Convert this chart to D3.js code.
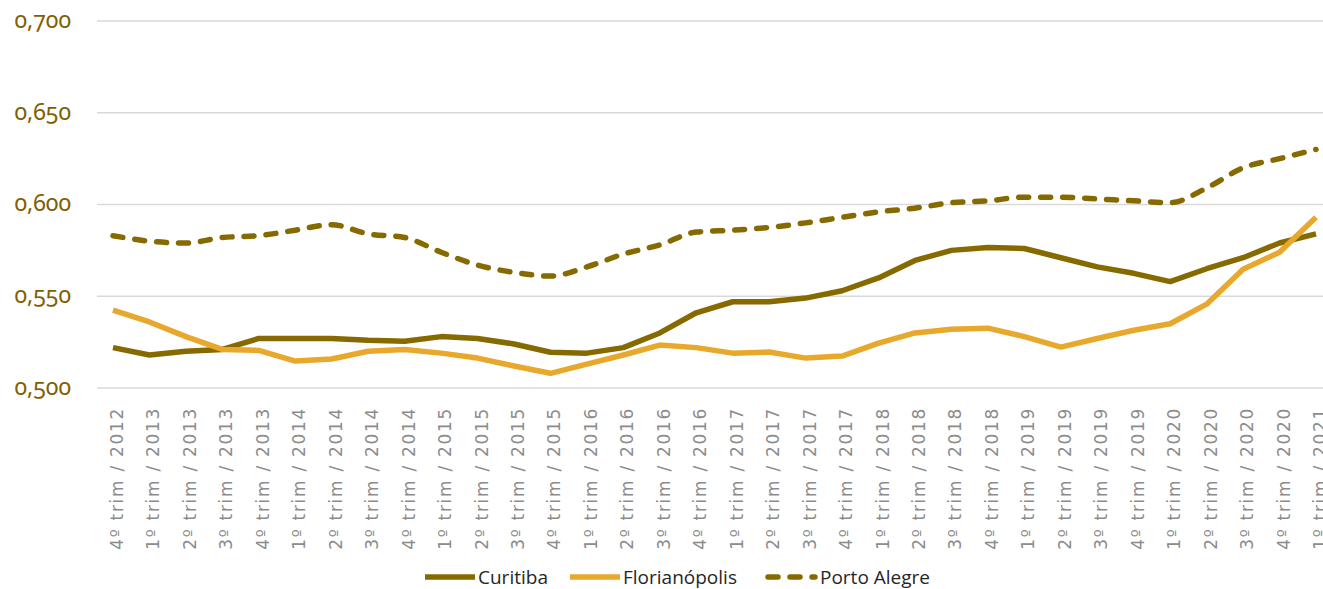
<!DOCTYPE html>
<meta charset="utf-8">
<style>
body { margin: 0; background: #fff; }
.grid line { stroke: #d9d9d9; stroke-width: 1.5; }
.ylab { font-family: "Noto Sans", sans-serif; font-size: 23px; fill: #7f6000; font-feature-settings: "onum"; font-variant-numeric: oldstyle-nums; }
.xlab { font-family: "DejaVu Sans", sans-serif; font-size: 17px; fill: #8c8c8c; letter-spacing: 1.7px; }
.line { fill: none; stroke-width: 5.5px; stroke-linejoin: round; }
.legend text { font-family: "Open Sans", sans-serif; font-size: 19px; fill: #262626; }
</style>
<svg width="1323" height="589"></svg>
<script src="https://cdn.jsdelivr.net/npm/d3@7"></script>
<script>

var quarters = ["4º trim / 2012",
  "1º trim / 2013", "2º trim / 2013", "3º trim / 2013", "4º trim / 2013",
  "1º trim / 2014", "2º trim / 2014", "3º trim / 2014", "4º trim / 2014",
  "1º trim / 2015", "2º trim / 2015", "3º trim / 2015", "4º trim / 2015",
  "1º trim / 2016", "2º trim / 2016", "3º trim / 2016", "4º trim / 2016",
  "1º trim / 2017", "2º trim / 2017", "3º trim / 2017", "4º trim / 2017",
  "1º trim / 2018", "2º trim / 2018", "3º trim / 2018", "4º trim / 2018",
  "1º trim / 2019", "2º trim / 2019", "3º trim / 2019", "4º trim / 2019",
  "1º trim / 2020", "2º trim / 2020", "3º trim / 2020", "4º trim / 2020",
  "1º trim / 2021"];

var curitiba = [0.522, 0.518, 0.520, 0.521, 0.527, 0.527, 0.527, 0.526, 0.5255, 0.528,
  0.527, 0.524, 0.5195, 0.519, 0.522, 0.530, 0.541, 0.547, 0.547, 0.549,
  0.553, 0.560, 0.5695, 0.575, 0.5766, 0.576, 0.571, 0.566, 0.5625, 0.558,
  0.565, 0.571, 0.579, 0.584];

var florianopolis = [0.5424, 0.536, 0.528, 0.521, 0.5205, 0.5147, 0.5158, 0.520, 0.521, 0.519,
  0.5163, 0.512, 0.508, 0.513, 0.518, 0.5234, 0.522, 0.519, 0.5196, 0.5163,
  0.5174, 0.5245, 0.530, 0.532, 0.5326, 0.528, 0.5223, 0.527, 0.5315, 0.535,
  0.5457, 0.5647, 0.574, 0.593];

var portoAlegre = [0.583, 0.580, 0.579, 0.582, 0.583, 0.586, 0.589, 0.584, 0.582, 0.574,
  0.567, 0.563, 0.561, 0.566, 0.573, 0.578, 0.585, 0.586, 0.5875, 0.590,
  0.593, 0.596, 0.598, 0.601, 0.602, 0.604, 0.604, 0.603, 0.602, 0.601,
  0.609, 0.620, 0.625, 0.630];

var yTicks = [0.5, 0.55, 0.6, 0.65, 0.7];

var dark = "#866a00", light = "#e8a82c";

var series = [
  {name: "Curitiba", values: curitiba, color: dark, dash: null, curve: d3.curveLinear},
  {name: "Florianópolis", values: florianopolis, color: light, dash: null, curve: d3.curveLinear},
  {name: "Porto Alegre", values: portoAlegre, color: dark, dash: "10,12", curve: d3.curveMonotoneX}
];

var svg = d3.select("svg");

var x = d3.scalePoint().domain(quarters).range([113, 1316]);
var y = d3.scaleLinear().domain([0.5, 0.7]).range([388, 21]);

// gridlines
svg.append("g").attr("class", "grid")
  .selectAll("line").data(yTicks).enter().append("line")
  .attr("x1", 97).attr("x2", 1323)
  .attr("y1", function(d) { return y(d); })
  .attr("y2", function(d) { return y(d); });

// y labels
svg.append("g").selectAll("text").data(yTicks).enter().append("text")
  .attr("class", "ylab")
  .attr("x", 71)
  .attr("y", function(d) { return y(d); })
  .attr("dy", "0.3em")
  .attr("text-anchor", "end")
  .text(function(d) { return d3.format(".3f")(d).replace(".", ","); });

// x labels, rotated
svg.append("g").selectAll("text").data(quarters).enter().append("text")
  .attr("class", "xlab")
  .attr("transform", function(d) { return "translate(" + (x(d) + 10) + ",407) rotate(-90)"; })
  .attr("text-anchor", "end")
  .text(function(d) { return d; });

// lines
series.forEach(function(s) {
  var line = d3.line()
    .x(function(d, i) { return x(quarters[i]); })
    .y(function(d) { return y(d); })
    .curve(s.curve);
  svg.append("path")
    .datum(s.values)
    .attr("class", "line")
    .attr("stroke", s.color)
    .attr("stroke-dasharray", s.dash)
    .attr("stroke-linecap", s.dash ? "round" : "butt")
    .attr("d", line);
});

// legend
var legX = [425, 570, 765];
var leg = svg.append("g").attr("class", "legend")
  .selectAll("g").data(series).enter().append("g")
  .attr("transform", function(d, i) { return "translate(" + legX[i] + ",577)"; });

leg.append("line")
  .attr("x1", function(d) { return d.dash ? 3 : 0; })
  .attr("x2", 50)
  .attr("stroke", function(d) { return d.color; })
  .attr("stroke-width", 5.5)
  .attr("stroke-dasharray", function(d) { return d.dash; })
  .attr("stroke-linecap", function(d) { return d.dash ? "round" : "butt"; });

leg.append("text")
  .attr("x", function(d) { return d.dash ? 55 : 53; })
  .attr("dy", "0.35em")
  .text(function(d) { return d.name; });

</script>
